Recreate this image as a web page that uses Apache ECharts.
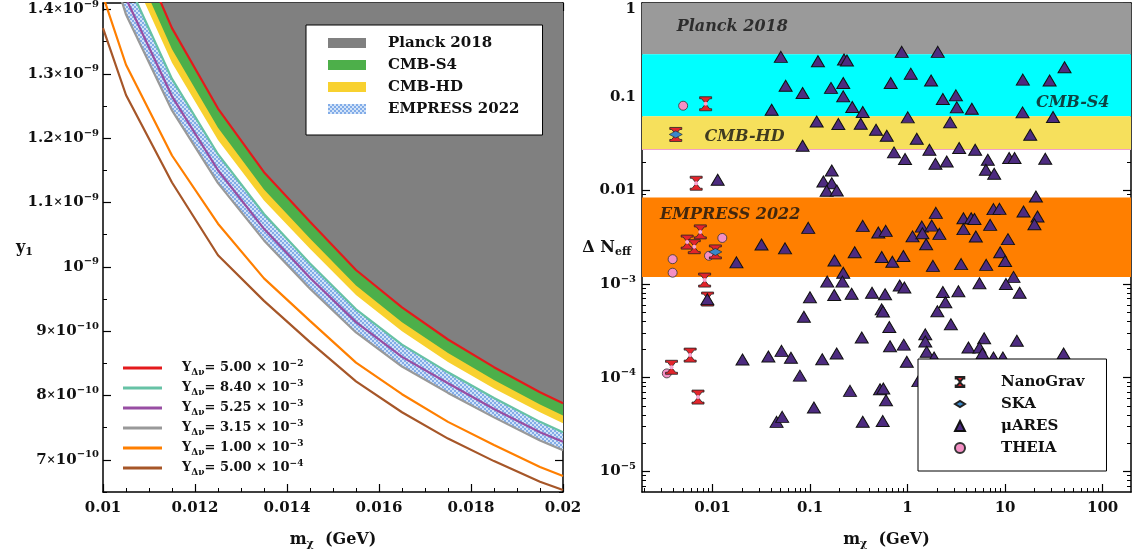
<!DOCTYPE html>
<html>
<head>
<meta charset="utf-8">
<script src="https://cdn.jsdelivr.net/npm/echarts@6/dist/echarts.min.js"></script>
<style>
html, body { margin: 0; padding: 0; background: #fff; }
#main { width: 1135px; height: 554px; }
</style>
</head>
<body>
<div id="main"></div>
<script>
// ---- left panel: y1 (in units of 1e-9) vs m_chi ----
const massGrid = [0.01, 0.0105, 0.0115, 0.0125, 0.0135, 0.0145, 0.0155, 0.0165, 0.0175, 0.0185, 0.0195, 0.02];
const yRed     = [1.66, 1.535, 1.371, 1.246, 1.147, 1.070, 0.995, 0.937, 0.887, 0.844, 0.805, 0.788];
const yS4Edge  = [1.620, 1.498, 1.338, 1.216, 1.120, 1.044, 0.971, 0.914, 0.866, 0.824, 0.786, 0.769];
const yHDEdge  = [1.595, 1.475, 1.317, 1.197, 1.103, 1.028, 0.956, 0.900, 0.852, 0.811, 0.774, 0.757];
const yTeal    = [1.565, 1.448, 1.292, 1.175, 1.082, 1.005, 0.934, 0.879, 0.836, 0.796, 0.759, 0.743];
const yPurple  = [1.532, 1.417, 1.265, 1.150, 1.059, 0.983, 0.914, 0.860, 0.819, 0.779, 0.743, 0.728];
const yGrey    = [1.506, 1.392, 1.243, 1.130, 1.041, 0.966, 0.898, 0.845, 0.804, 0.766, 0.730, 0.715];
const yOrange  = [1.421, 1.314, 1.173, 1.067, 0.982, 0.916, 0.851, 0.802, 0.759, 0.723, 0.689, 0.675];
const yBrown   = [1.371, 1.267, 1.131, 1.018, 0.947, 0.883, 0.822, 0.774, 0.733, 0.698, 0.666, 0.653];
const lineCoef = ['5.00', '8.40', '5.25', '3.15', '1.00', '5.00'];
const lineExp  = ['−2', '−3', '−3', '−3', '−3', '−4'];

// ---- right panel: Delta N_eff vs m_chi ----
const nanoMass = [0.0085, 0.0042, 0.0068, 0.0075, 0.0055, 0.0065, 0.0107, 0.0083, 0.0089, 0.0059, 0.0038, 0.0071];
const nanoDN   = [0.084, 0.0395, 0.0119, 0.0036, 0.0028, 0.0025, 0.0022, 0.0011, 0.00069, 0.000174, 0.000129, 0.000062];
const skaMass  = [0.0042, 0.0107];
const skaDN    = [0.0395, 0.0022];
const theiaMass = [0.0050, 0.0126, 0.0092, 0.0039, 0.0039, 0.0034];
const theiaDN   = [0.080, 0.0031, 0.0020, 0.00184, 0.00132, 0.000111];
const aresMass = [
  0.0502, 0.0562, 0.0404, 0.0839, 0.1205, 0.117, 0.164, 0.195, 0.219, 0.223, 0.239, 0.219, 0.271, 0.347, 0.331, 0.0839,
  0.871, 2.04, 0.672, 1.079, 1.742, 2.30, 3.13, 3.20, 4.56, 15.2, 28.6, 40.7, 15.1, 31.0,
  0.475, 0.612, 1.005, 1.243, 2.73, 18.1,
  0.0113, 0.137, 0.167, 0.167, 0.148, 0.188, 0.726, 0.942, 1.675, 1.93, 2.52, 3.38, 4.93, 6.65, 6.35, 7.73, 11.0, 12.5, 25.8,
  0.0958, 0.347, 0.0318, 0.0554, 0.0176, 0.178, 0.287, 0.219, 0.501, 0.597, 0.543, 0.698, 0.906, 1.125, 1.40, 1.42, 1.77,
  1.95, 2.12, 1.55, 1.82, 20.7, 3.74, 4.49, 4.85, 7.60, 8.76, 15.45, 21.5, 20.0, 7.03, 3.74, 5.01, 10.7, 8.91, 10.0, 6.40,
  3.54, 12.2,
  0.150, 0.215, 0.177, 0.267, 0.432, 0.588, 0.830, 0.927, 0.543, 0.560, 2.30, 2.44, 2.02, 3.32, 2.78, 0.650, 0.339, 1.52,
  1.52, 1.57, 0.661, 0.914, 0.982, 1.87, 5.46, 10.2, 14.1, 6.10, 13.2, 4.21, 5.46, 5.86, 7.60, 9.49, 39.8, 0.522, 0.564,
  0.601, 0.347, 0.556, 1.29, 0.0203, 0.0374, 0.0510, 0.0637, 0.0787, 0.0865, 0.0998, 0.1096, 0.1334, 0.1875, 0.257,
  0.0454, 0.0518, 0.00885
];
const aresDN = [
  0.266, 0.131, 0.0726, 0.1096, 0.2385, 0.0544, 0.124, 0.051, 0.140, 0.249, 0.243, 0.1007, 0.0776, 0.0686, 0.0514, 0.0299,
  0.301, 0.301, 0.140, 0.176, 0.149, 0.0945, 0.1032, 0.0768, 0.0744, 0.152, 0.149, 0.206, 0.0679, 0.0607,
  0.0444, 0.0383, 0.0601, 0.0356, 0.0531, 0.0392,
  0.01295, 0.0124, 0.0163, 0.0119, 0.00988, 0.00995, 0.0254, 0.0216, 0.0271, 0.0192, 0.0203, 0.0283, 0.0271, 0.0212, 0.0166, 0.0150, 0.0221, 0.0221, 0.0217,
  0.00397, 0.00417, 0.00264, 0.0024, 0.0017, 0.00178, 0.00218, 0.00132, 0.00354, 0.00369, 0.00194, 0.00173, 0.00199, 0.00322, 0.0041, 0.00348, 0.0042,
  0.00574, 0.00343, 0.00266, 0.00156, 0.00859, 0.00504, 0.00504, 0.00495, 0.0063, 0.00634, 0.00593, 0.00525, 0.00435, 0.00428, 0.00385, 0.00321, 0.00301, 0.00218, 0.00176, 0.0016,
  0.00163, 0.00119,
  0.00106, 0.00106, 0.000762, 0.000787, 0.000805, 0.000776, 0.000964, 0.000918, 0.000536, 0.000508, 0.000821, 0.000637, 0.000511, 0.000835, 0.000371, 0.000347, 0.000268, 0.00029,
  0.000243, 0.000189, 0.000216, 0.000225, 0.000148, 0.000164, 0.00102, 0.00100, 0.000807, 0.000263, 0.000248, 0.00021, 0.00021, 0.000181, 0.000164, 0.000164, 0.000181, 7.53e-5, 7.66e-5,
  5.74e-5, 3.38e-5, 3.45e-5, 9.18e-5, 0.000156, 0.000168, 0.000193, 0.000163, 0.000105, 0.000447, 0.000721, 4.8e-5, 0.000157, 0.000181, 7.22e-5,
  3.37e-5, 3.81e-5, 0.000688
];
// horizontal sensitivity bands
const bandNames = ['Planck 2018', 'CMB-S4', 'CMB-HD', 'EMPRESS 2022'];
const bandLow   = [0.284, 0.0617, 0.0273, 0.00119];
const bandHigh  = [1, 0.284, 0.0617, 0.00838];
const bandTextMass = [0.0043, 20.7, 0.0083, 0.0029];
const bandTextDN   = [0.56, 0.0857, 0.0371, 0.00547];

const FONT = 'DejaVu Serif';
const INK = '#111';

const pts = (xs, ys) => xs.map((x, i) => [x, ys[i]]);
const logPts = (xs, ys) => xs.map((x, i) => [Math.log10(x), Math.log10(ys[i])]);

// checkered blue pattern for EMPRESS 2022
const pat = document.createElement('canvas');
pat.width = 4; pat.height = 4;
const pc = pat.getContext('2d');
pc.fillStyle = '#d2e3f8'; pc.fillRect(0, 0, 4, 4);
pc.fillStyle = '#82ace8'; pc.fillRect(0, 0, 2, 2); pc.fillRect(2, 2, 2, 2);
const hatch = { image: pat, repeat: 'repeat' };

const rich = {
  n: { fontFamily: FONT, fontWeight: 'bold', fontSize: 15, lineHeight: 20, color: INK },
  x: { fontFamily: FONT, fontWeight: 'bold', fontSize: 11, lineHeight: 20, color: INK },
  p: { fontFamily: FONT, fontWeight: 'bold', fontSize: 10, lineHeight: 9, verticalAlign: 'top', color: INK },
  s: { fontFamily: FONT, fontWeight: 'bold', fontSize: 10, lineHeight: 9, verticalAlign: 'bottom', color: INK },
  one: { fontFamily: FONT, fontWeight: 'bold', fontSize: 15, lineHeight: 20, color: INK, padding: [12, 0, 0, 0] }
};
const nameRich = {
  n: { fontFamily: FONT, fontWeight: 'bold', fontSize: 16, lineHeight: 20, color: INK },
  s: { fontFamily: FONT, fontWeight: 'bold', fontSize: 11, lineHeight: 10, verticalAlign: 'bottom', color: INK }
};

function makeAxes(dim, grid, min, max, major, minor, fmt, margin, name, nameGap) {
  const sides = dim === 'x' ? ['bottom', 'top'] : ['left', 'right'];
  const out = [];
  sides.forEach((side, k) => {
    const ax = {
      type: 'value', gridIndex: grid, position: side, min: min, max: max,
      axisLine: { show: true, onZero: false, lineStyle: { color: '#000', width: 1.5 } },
      axisTick: { show: true, inside: true, length: 8, customValues: major, lineStyle: { color: '#000', width: 1.2 } },
      axisLabel: k === 0 ? { show: true, customValues: major, formatter: fmt, margin: margin, rich: rich } : { show: false },
      splitLine: { show: false }
    };
    if (k === 0 && name) {
      ax.name = name;
      ax.nameLocation = 'middle';
      ax.nameGap = nameGap;
      ax.nameRotate = 0;
      ax.nameMoveOverlap = false;
      ax.nameTextStyle = { rich: nameRich };
    }
    out.push(ax);
    out.push({
      type: 'value', gridIndex: grid, position: side, min: min, max: max,
      axisLine: { show: false, onZero: false },
      axisTick: { show: true, inside: true, length: 4, customValues: minor, lineStyle: { color: '#000', width: 1 } },
      axisLabel: { show: false },
      splitLine: { show: false }
    });
  });
  return out;
}

// left panel ticks
const lxMajor = [0.01, 0.012, 0.014, 0.016, 0.018, 0.02];
const lxMinor = [];
for (let v = 0.0105; v < 0.02; v += 0.0005) lxMinor.push(+v.toFixed(4));
const lyMajor = [0.7, 0.8, 0.9, 1.0, 1.1, 1.2, 1.3, 1.4];
const lyMinor = [0.65, 0.75, 0.85, 0.95, 1.05, 1.15, 1.25, 1.35];

// right panel ticks (log10 space)
const rxMin = -2.723, rxMax = 2.291, ryMin = -5.221, ryMax = 0;
const rxMajor = [-2, -1, 0, 1, 2];
const ryMajor = [-5, -4, -3, -2, -1, 0];
const rxMinor = [], ryMinor = [];
for (let n = -3; n <= 2; n++) for (let k = 2; k <= 9; k++) {
  const v = Math.log10(k) + n;
  if (v > rxMin && v < rxMax) rxMinor.push(v);
}
for (let n = -6; n <= -1; n++) for (let k = 2; k <= 9; k++) {
  const v = Math.log10(k) + n;
  if (v > ryMin && v < ryMax) ryMinor.push(v);
}

const fmtLX = v => '{n|' + (+v.toFixed(3)) + '}';
const fmtLY = v => {
  if (Math.abs(v - 1) < 1e-6) return '{n|10}{p|−9}';
  if (v > 1) return '{n|' + v.toFixed(1) + '}{x|×}{n|10}{p|−9}';
  return '{n|' + Math.round(v * 10) + '}{x|×}{n|10}{p|−10}';
};
const fmtRX = v => '{n|' + ['0.01', '0.1', '1', '10', '100'][Math.round(v) + 2] + '}';
const fmtRY = v => {
  const r = Math.round(v);
  if (r === 0) return '{one|1}';
  if (r === -1) return '{n|0.1}';
  if (r === -2) return '{n|0.01}';
  return '{n|10}{p|−' + (-r) + '}';
};

const xAxes = []
  .concat(makeAxes('x', 0, 0.01, 0.02, lxMajor, lxMinor, fmtLX, 6, '{n|m}{s|χ}{n|  (GeV)}', 38))
  .concat(makeAxes('x', 1, rxMin, rxMax, rxMajor, rxMinor, fmtRX, 6, '{n|m}{s|χ}{n|  (GeV)}', 38));
const yAxes = []
  .concat(makeAxes('y', 0, 0.65, 1.41, lyMajor, lyMinor, fmtLY, 4, '{n|y}{s|1}', 70))
  .concat(makeAxes('y', 1, ryMin, ryMax, ryMajor, ryMinor, fmtRY, 6, '{n|Δ N}{s|eff}', 11));

const curveSeries = [yRed, yTeal, yPurple, yGrey, yOrange, yBrown];
const curveColors = ['#e41a1c', '#66c2a5', '#984ea3', '#999999', '#ff7f00', '#a65628'];

const series = [
  // filled regions, drawn bottom-up, each filling to the top of the frame
  { name: 'EMPRESS 2022', type: 'line', xAxisIndex: 0, yAxisIndex: 0, data: pts(massGrid, yGrey), symbol: 'none',
    lineStyle: { width: 0 }, areaStyle: { origin: 'end', color: hatch, opacity: 1 }, z: 1 },
  { name: 'gap', type: 'line', xAxisIndex: 0, yAxisIndex: 0, data: pts(massGrid, yTeal), symbol: 'none',
    lineStyle: { width: 0 }, areaStyle: { origin: 'end', color: '#fff', opacity: 1 }, z: 1 },
  { name: 'CMB-HD', type: 'line', xAxisIndex: 0, yAxisIndex: 0, data: pts(massGrid, yHDEdge), symbol: 'none',
    lineStyle: { width: 0 }, areaStyle: { origin: 'end', color: '#f8d12f', opacity: 1 }, z: 1 },
  { name: 'CMB-S4', type: 'line', xAxisIndex: 0, yAxisIndex: 0, data: pts(massGrid, yS4Edge), symbol: 'none',
    lineStyle: { width: 0 }, areaStyle: { origin: 'end', color: '#4daf4a', opacity: 1 }, z: 1 },
  { name: 'Planck 2018', type: 'line', xAxisIndex: 0, yAxisIndex: 0, data: pts(massGrid, yRed), symbol: 'none',
    lineStyle: { width: 0 }, areaStyle: { origin: 'end', color: '#808080', opacity: 1 }, z: 1 }
];
curveSeries.forEach((ys, i) => {
  series.push({
    name: 'Y' + i, type: 'line', xAxisIndex: 0, yAxisIndex: 0, data: pts(massGrid, ys), symbol: 'none',
    lineStyle: { width: 2.2, color: curveColors[i] }, itemStyle: { color: curveColors[i] }, z: 3
  });
});

// right panel bands
const bandColors = ['#9a9a9a', '#00ffff', '#f6e05c', '#ff7f00'];
series.push({
  name: 'bands', type: 'scatter', xAxisIndex: 4, yAxisIndex: 4, data: [], silent: true, z: 1,
  markArea: {
    silent: true,
    data: bandNames.map((b, i) => [
      { yAxis: Math.log10(bandLow[i]), itemStyle: { color: bandColors[i], opacity: 1 } },
      { yAxis: Math.log10(bandHigh[i]) }
    ])
  },
  markLine: {
    silent: true, symbol: 'none', label: { show: false },
    lineStyle: { color: '#f0a0c8', width: 1.2, type: 'solid' },
    data: [{ yAxis: Math.log10(bandLow[2]) }]
  }
});
series.push({
  name: 'bandText', type: 'scatter', xAxisIndex: 4, yAxisIndex: 4, symbolSize: 0, silent: true, z: 2,
  data: bandNames.map((b, i) => ({ name: b, value: [Math.log10(bandTextMass[i]), Math.log10(bandTextDN[i])] })),
  label: { show: true, position: 'right', distance: 0, formatter: p => p.name,
    fontFamily: FONT, fontWeight: 'bold', fontStyle: 'italic', fontSize: 16, color: '#111' }
});
series.push({
  name: 'THEIA', type: 'scatter', xAxisIndex: 4, yAxisIndex: 4, data: logPts(theiaMass, theiaDN),
  symbol: 'circle', symbolSize: 9, itemStyle: { color: '#f48fc4', borderColor: '#333', borderWidth: 0.8, opacity: 1 }, z: 3
});
series.push({
  name: 'NanoGrav', type: 'scatter', xAxisIndex: 4, yAxisIndex: 4, data: logPts(nanoMass, nanoDN),
  symbol: 'path://M0,0H12V2H10L6,7L10,12H12V14H0V12H2L6,7L2,2H0Z', symbolSize: [12, 14],
  itemStyle: { color: '#e3242b', borderColor: '#222', borderWidth: 0.8, opacity: 1 }, z: 4
});
series.push({
  name: 'nanoCenter', type: 'scatter', xAxisIndex: 4, yAxisIndex: 4, data: logPts(nanoMass, nanoDN),
  symbol: 'circle', symbolSize: 4, silent: true, itemStyle: { color: '#f7a6d2', opacity: 1 }, z: 4
});
series.push({
  name: 'SKA', type: 'scatter', xAxisIndex: 4, yAxisIndex: 4, data: logPts(skaMass, skaDN),
  symbol: 'path://M0,5L8,0L16,5L8,10Z', symbolSize: [13, 7],
  itemStyle: { color: '#3a87c8', borderColor: '#222', borderWidth: 0.6, opacity: 1 }, z: 5
});
series.push({
  name: 'μARES', type: 'scatter', xAxisIndex: 4, yAxisIndex: 4, data: logPts(aresMass, aresDN),
  symbol: 'triangle', symbolSize: [13, 11],
  itemStyle: { color: '#4d2b80', borderColor: '#111', borderWidth: 1, opacity: 1 }, z: 6
});

const legendText = { fontFamily: FONT, fontWeight: 'bold', fontSize: 15, lineHeight: 16, color: INK };

const option = {
  animation: false,
  backgroundColor: '#fff',
  textStyle: { fontFamily: FONT, fontWeight: 'bold', color: INK },
  grid: [
    { left: 103, top: 3, width: 460, height: 489, containLabel: false, outerBoundsMode: 'none' },
    { left: 642, top: 3, width: 489, height: 489, containLabel: false, outerBoundsMode: 'none' }
  ],
  xAxis: xAxes,
  yAxis: yAxes,
  legend: [
    {
      left: 306, top: 25, orient: 'vertical', icon: 'rect', itemWidth: 38, itemHeight: 10, itemGap: 6,
      padding: [10, 23, 18, 22], backgroundColor: '#fff', borderColor: '#000', borderWidth: 1,
      selectedMode: false, z: 10,
      textStyle: Object.assign({ padding: [0, 0, 0, 17] }, legendText),
      data: [
        { name: 'Planck 2018', itemStyle: { color: '#808080' }, lineStyle: { width: 0 } },
        { name: 'CMB-S4', itemStyle: { color: '#4daf4a' }, lineStyle: { width: 0 } },
        { name: 'CMB-HD', itemStyle: { color: '#f8d12f' }, lineStyle: { width: 0 } },
        { name: 'EMPRESS 2022', itemStyle: { color: hatch }, lineStyle: { width: 0 } }
      ]
    },
    {
      left: 123, top: 359, orient: 'vertical', icon: 'rect', itemWidth: 39, itemHeight: 3, itemGap: 2, padding: 0,
      selectedMode: false, z: 10,
      formatter: name => {
        const i = +name.slice(1);
        return '{a|Y}{s|Δν}{a|= ' + lineCoef[i] + ' × 10}{p|' + lineExp[i] + '}';
      },
      textStyle: {
        padding: [0, 0, 0, 15], lineHeight: 18,
        rich: {
          a: { fontFamily: FONT, fontWeight: 'bold', fontSize: 13, lineHeight: 18, color: INK },
          s: { fontFamily: FONT, fontWeight: 'bold', fontSize: 9, lineHeight: 8, verticalAlign: 'bottom', color: INK },
          p: { fontFamily: FONT, fontWeight: 'bold', fontSize: 9, lineHeight: 8, verticalAlign: 'top', color: INK }
        }
      },
      data: ['Y0', 'Y1', 'Y2', 'Y3', 'Y4', 'Y5']
    },
    {
      left: 918, top: 359, orient: 'vertical', itemWidth: 10, itemHeight: 10, itemGap: 6,
      padding: [15, 22, 15, 36], backgroundColor: '#fff', borderColor: '#000', borderWidth: 1,
      selectedMode: false, z: 10,
      textStyle: Object.assign({ padding: [0, 0, 0, 31] }, legendText),
      data: ['NanoGrav', 'SKA', 'μARES', 'THEIA']
    }
  ],
  series: series
};

const chart = echarts.init(document.getElementById('main'), null, { renderer: 'canvas' });
chart.setOption(option);
</script>
</body>
</html>
